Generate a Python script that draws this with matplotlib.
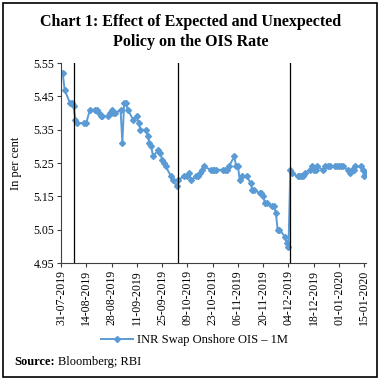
import matplotlib
matplotlib.use("Agg")
import matplotlib.pyplot as plt
import matplotlib.dates as mdates
from matplotlib.patches import Rectangle
import pandas as pd

# INR Swap Onshore OIS - 1M, daily values
dates = [
    "2019-07-31", "2019-08-01", "2019-08-02", "2019-08-05", "2019-08-06",
    "2019-08-07", "2019-08-08", "2019-08-09", "2019-08-13", "2019-08-14",
    "2019-08-16", "2019-08-19", "2019-08-20", "2019-08-21", "2019-08-22",
    "2019-08-23", "2019-08-26", "2019-08-27", "2019-08-28", "2019-08-29",
    "2019-08-30", "2019-09-02", "2019-09-03", "2019-09-04", "2019-09-05",
    "2019-09-06", "2019-09-09", "2019-09-11", "2019-09-12", "2019-09-13",
    "2019-09-16", "2019-09-17", "2019-09-18", "2019-09-19", "2019-09-20",
    "2019-09-23", "2019-09-24", "2019-09-25", "2019-09-26", "2019-09-27",
    "2019-09-30", "2019-10-01", "2019-10-03", "2019-10-04", "2019-10-07",
    "2019-10-09", "2019-10-10", "2019-10-11", "2019-10-14", "2019-10-15",
    "2019-10-16", "2019-10-17", "2019-10-18", "2019-10-22", "2019-10-23",
    "2019-10-24", "2019-10-25", "2019-10-29", "2019-10-30", "2019-10-31",
    "2019-11-01", "2019-11-04", "2019-11-05", "2019-11-06", "2019-11-07",
    "2019-11-08", "2019-11-11", "2019-11-13", "2019-11-14", "2019-11-15",
    "2019-11-18", "2019-11-19", "2019-11-20", "2019-11-21", "2019-11-22",
    "2019-11-25", "2019-11-26", "2019-11-27", "2019-11-28", "2019-11-29",
    "2019-12-02", "2019-12-03", "2019-12-04", "2019-12-05", "2019-12-06",
    "2019-12-09", "2019-12-10", "2019-12-11", "2019-12-12", "2019-12-13",
    "2019-12-16", "2019-12-17", "2019-12-18", "2019-12-19", "2019-12-20",
    "2019-12-23", "2019-12-24", "2019-12-26", "2019-12-27", "2019-12-30",
    "2019-12-31", "2020-01-01", "2020-01-02", "2020-01-03", "2020-01-06",
    "2020-01-07", "2020-01-08", "2020-01-09", "2020-01-10", "2020-01-13",
    "2020-01-14", "2020-01-15", "2020-01-16",
]
ois_1m = [
    5.52, 5.52, 5.47, 5.43, 5.43,
    5.42, 5.38, 5.37, 5.37, 5.37,
    5.41, 5.41, 5.41, 5.40, 5.39,
    5.39, 5.39, 5.40, 5.41, 5.40,
    5.40, 5.41, 5.31, 5.43, 5.43,
    5.41, 5.38, 5.39, 5.37, 5.35,
    5.35, 5.33, 5.31, 5.30, 5.27,
    5.29, 5.28, 5.26, 5.25, 5.24,
    5.21, 5.20, 5.18, 5.20, 5.21,
    5.21, 5.22, 5.20, 5.21, 5.21,
    5.22, 5.23, 5.24, 5.23, 5.23,
    5.23, 5.23, 5.23, 5.23, 5.23,
    5.24, 5.27, 5.24, 5.24, 5.20,
    5.21, 5.21, 5.19, 5.17, 5.17,
    5.16, 5.16, 5.15, 5.13, 5.13,
    5.12, 5.12, 5.10, 5.05, 5.05,
    5.03, 5.01, 5.00, 5.23, 5.22,
    5.21, 5.21, 5.21, 5.21, 5.22,
    5.23, 5.24, 5.23, 5.23, 5.24,
    5.23, 5.24, 5.24, 5.24, 5.24,
    5.24, 5.24, 5.24, 5.24, 5.23,
    5.22, 5.23, 5.23, 5.24, 5.24,
    5.23, 5.21, 5.22,
]
policy_dates = ["2019-08-07", "2019-10-04", "2019-12-05"]
y_ticks = [4.95, 5.05, 5.15, 5.25, 5.35, 5.45, 5.55]
x_tick_start, x_tick_end = "2019-07-31", "2020-01-15"

plt.rcParams["font.family"] = ["Liberation Serif", "DejaVu Serif"]
blue = "#5b9bd5"

fig = plt.figure(figsize=(3.81, 3.82), dpi=100)
ax = fig.add_axes([0.160, 0.311, 0.801, 0.524])

x = pd.to_datetime(dates)
ax.plot(x, ois_1m, color=blue, lw=1.4, marker="D", ms=3.0,
        label="INR Swap Onshore OIS \u2013 1M")
for d in policy_dates:
    ax.axvline(pd.Timestamp(d), color="black", lw=0.9)

ax.set_ylim(4.95, 5.55)
ax.set_yticks(y_ticks)
ax.set_yticklabels([f"{v:.2f}" for v in y_ticks])
ax.set_xlim(pd.Timestamp(x_tick_start), pd.Timestamp("2020-01-16"))
ax.set_xticks(pd.date_range(x_tick_start, x_tick_end, freq="14D"))
ax.xaxis.set_major_formatter(mdates.DateFormatter("%d-%m-%Y"))
plt.setp(ax.get_xticklabels(), rotation=90)
ax.tick_params(labelsize=8.5, length=3, width=0.8, color="#404040", pad=2)
ax.set_ylabel("In per cent", fontsize=9, labelpad=8)
for s in ("top", "right"):
    ax.spines[s].set_visible(False)
for s in ("left", "bottom"):
    ax.spines[s].set_color("#404040")
    ax.spines[s].set_linewidth(0.8)

fig.text(0.5, 0.942, "Chart 1: Effect of Expected and Unexpected",
         ha="center", va="center", fontsize=11.5, fontweight="bold")
fig.text(0.5, 0.889, "Policy on the OIS Rate",
         ha="center", va="center", fontsize=11.5, fontweight="bold")

fig.legend(loc="center", bbox_to_anchor=(0.51, 0.11), frameon=False,
           fontsize=9, handlelength=2.6, handletextpad=0.3)

t = fig.text(0.037, 0.052, "Source:", ha="left", va="center",
             fontsize=9, fontweight="bold")
fig.canvas.draw()
bb = t.get_window_extent().transformed(fig.transFigure.inverted())
fig.text(bb.x1 + 0.008, 0.052, "Bloomberg; RBI", ha="left", va="center",
         fontsize=9)

fig.patches.append(Rectangle((0.008, 0.013), 0.982, 0.979, transform=fig.transFigure,
                             fill=False, lw=1.2, ec="black"))

fig.savefig("out.png", dpi=100)
